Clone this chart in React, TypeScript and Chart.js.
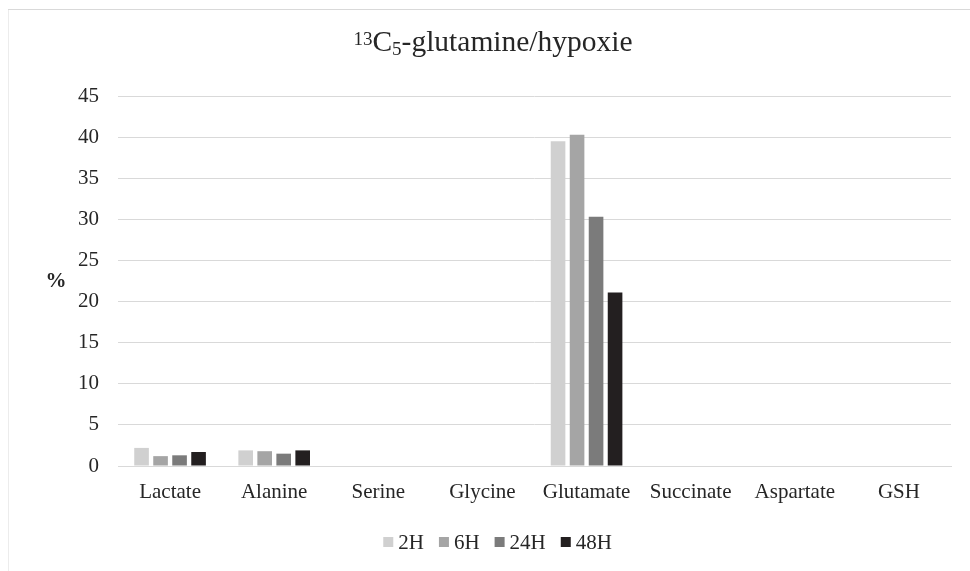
import React, { useEffect, useRef } from "react";
import { Chart, registerables } from "chart.js";

Chart.register(...registerables);

const categories = ["Lactate", "Alanine", "Serine", "Glycine", "Glutamate", "Succinate", "Aspartate", "GSH"];
const seriesLabels = ["2H", "6H", "24H", "48H"];
const values2H = [2.2, 1.9, 0, 0, 39.5, 0, 0, 0];
const values6H = [1.2, 1.8, 0, 0, 40.3, 0, 0, 0];
const values24H = [1.3, 1.5, 0, 0, 30.3, 0, 0, 0];
const values48H = [1.7, 1.9, 0, 0, 21.1, 0, 0, 0];
const seriesColors = ["#d0d0d0", "#a5a5a5", "#7b7b7b", "#231f20"];
const yMin = 0;
const yMax = 45;
const yStep = 5;
const yAxisLabel = "%";
const titleSup = "13";
const titleMain = "C";
const titleSub = "5";
const titleRest = "-glutamine/hypoxie";

const FONT = "'Liberation Serif', 'Times New Roman', serif";
const TEXT = "#262626";
const GRID = "#d9d9d9";

const decorPlugin = {
  id: "decor",
  beforeDraw(chart: any) {
    const ctx = chart.ctx;
    ctx.save();
    ctx.strokeStyle = GRID;
    ctx.lineWidth = 1;
    ctx.beginPath();
    ctx.moveTo(0, chart.height);
    ctx.lineTo(0, 1.5);
    ctx.lineTo(chart.width, 1.5);
    ctx.stroke();
    ctx.restore();
  },
  afterDraw(chart: any) {
    const ctx = chart.ctx;
    ctx.save();
    ctx.fillStyle = TEXT;
    ctx.textBaseline = "alphabetic";
    ctx.textAlign = "left";
    // Title
    const big = 29.5;
    const small = 19;
    const parts = [
      { t: titleSup, size: small, dy: -6 },
      { t: titleMain, size: big, dy: 0 },
      { t: titleSub, size: small, dy: 4 },
      { t: titleRest, size: big, dy: 0 },
    ];
    let total = 0;
    for (const p of parts) {
      ctx.font = `${p.size}px ${FONT}`;
      total += ctx.measureText(p.t).width;
    }
    let x = 485 - total / 2;
    const baseY = 43;
    for (const p of parts) {
      ctx.font = `${p.size}px ${FONT}`;
      ctx.fillText(p.t, x, baseY + p.dy);
      x += ctx.measureText(p.t).width;
    }
    // Y axis label (horizontal)
    ctx.font = `bold 21px ${FONT}`;
    ctx.textAlign = "center";
    ctx.textBaseline = "middle";
    ctx.fillText(yAxisLabel, 48, 274);
    // Legend
    ctx.font = `21px ${FONT}`;
    ctx.textAlign = "left";
    const box = 10;
    const gap = 5;
    const spacing = 15;
    const datasets = chart.data.datasets;
    let w = 0;
    datasets.forEach((d: any, i: number) => {
      w += box + gap + ctx.measureText(d.label).width;
      if (i < datasets.length - 1) w += spacing;
    });
    let lx = 489.6 - w / 2;
    const ly = 534;
    datasets.forEach((d: any) => {
      ctx.fillStyle = d.backgroundColor;
      ctx.fillRect(lx, ly - box / 2, box, box);
      lx += box + gap;
      ctx.fillStyle = TEXT;
      ctx.fillText(d.label, lx, ly + 1);
      lx += ctx.measureText(d.label).width + spacing;
    });
    ctx.restore();
  },
};

export default function App() {
  const ref = useRef<HTMLCanvasElement | null>(null);
  useEffect(() => {
    if (!ref.current) return;
    const seriesValues = [values2H, values6H, values24H, values48H];
    const chart = new Chart(ref.current, {
      type: "bar",
      data: {
        labels: categories,
        datasets: seriesLabels.map((label, i) => ({
          label,
          data: seriesValues[i],
          backgroundColor: seriesColors[i],
          borderWidth: 0,
          categoryPercentage: 0.73,
          barPercentage: 0.77,
        })),
      },
      options: {
        responsive: false,
        animation: false,
        devicePixelRatio: 1,
        layout: { padding: { top: 88, right: 19, left: 0, bottom: 55 } },
        plugins: {
          legend: { display: false },
          title: { display: false },
          tooltip: { enabled: false },
        },
        scales: {
          x: {
            grid: { display: false, drawTicks: false },
            border: { display: true, color: GRID, width: 1 },
            ticks: { color: TEXT, font: { family: FONT, size: 21 }, padding: 14, maxRotation: 0, autoSkip: false },
            afterFit: (s: any) => { s.height = 50; },
          },
          y: {
            min: yMin,
            max: yMax,
            grid: { color: GRID, drawTicks: false, lineWidth: 1 },
            border: { display: false },
            ticks: { stepSize: yStep, color: TEXT, font: { family: FONT, size: 21 }, padding: 19 },
            afterFit: (s: any) => { s.width = 110; },
          },
        },
      },
      plugins: [decorPlugin],
    });
    return () => chart.destroy();
  }, []);
  return (
    <div style={{ position: "fixed", left: 8, top: 8, width: 962, height: 563 }}>
      <canvas ref={ref} width={962} height={563} style={{ display: "block", width: 962, height: 563 }} />
    </div>
  );
}
